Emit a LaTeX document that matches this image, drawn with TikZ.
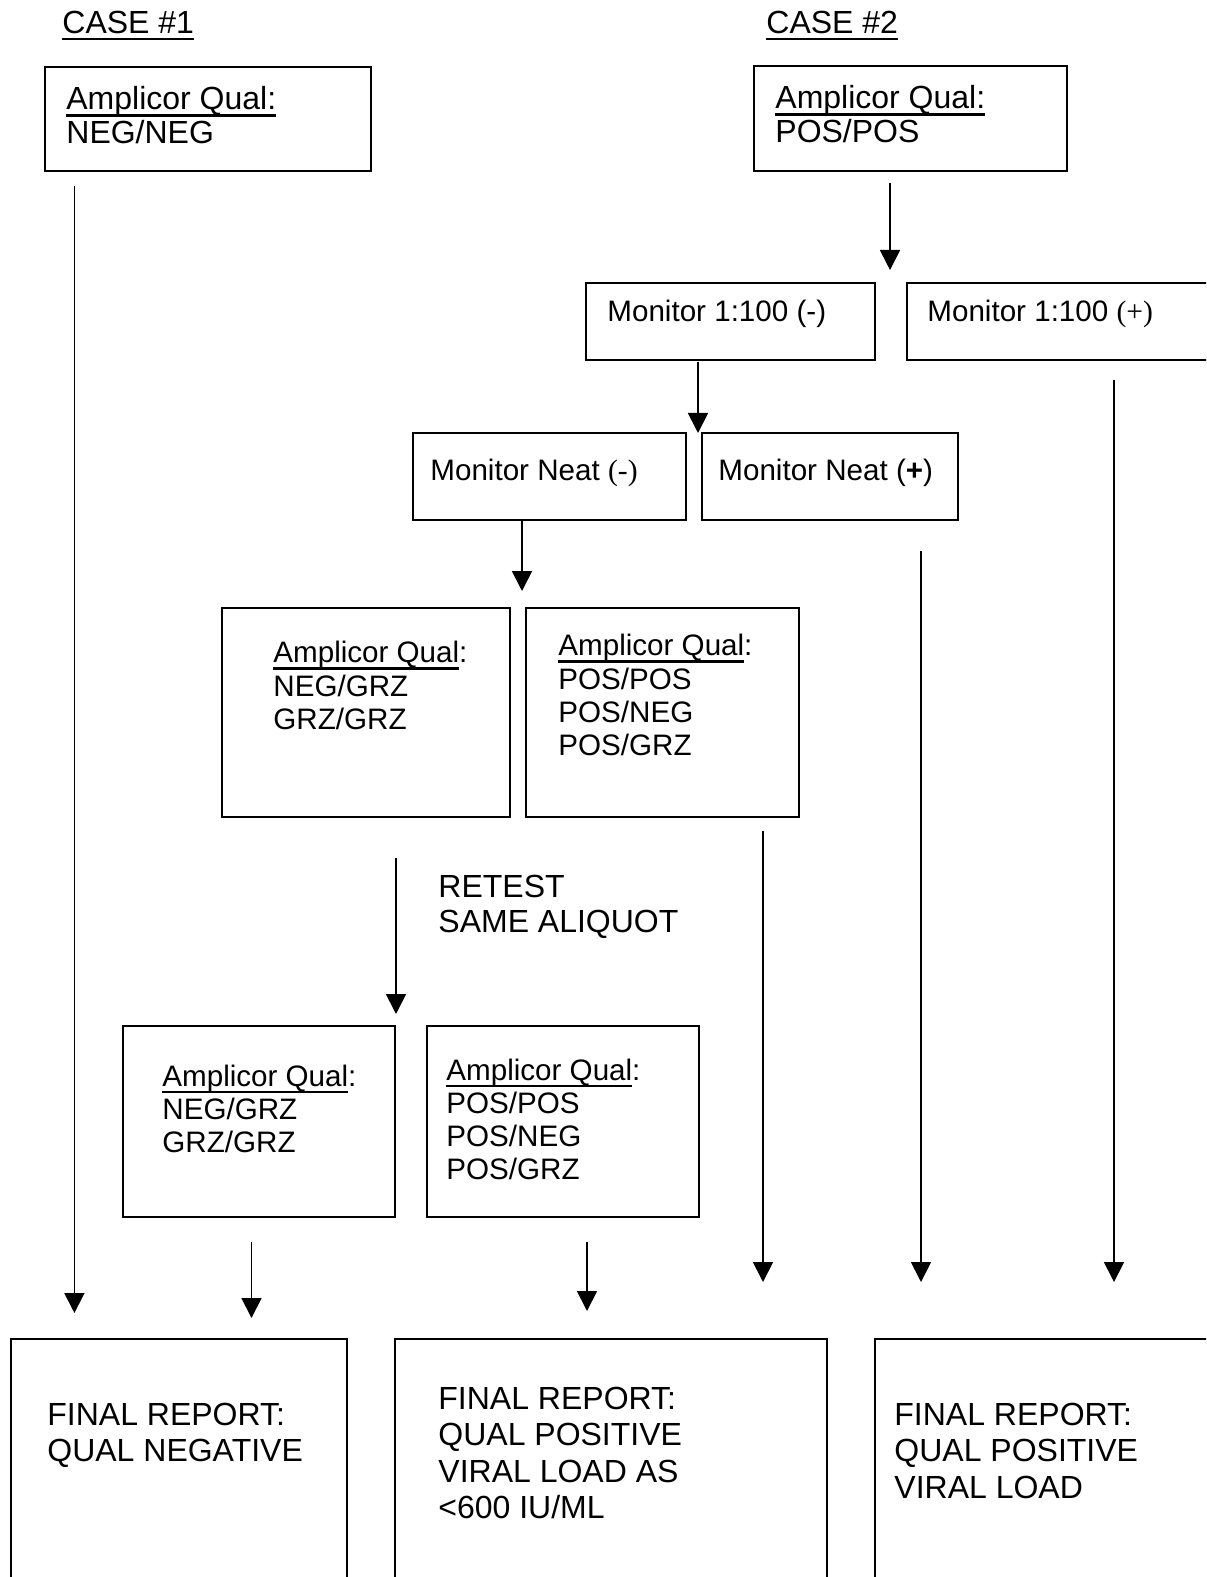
\documentclass[tikz,border=0pt]{standalone}
\usepackage{fontspec}
\setmainfont{Liberation Sans}
\newfontfamily\serifpart{Liberation Serif}
\usetikzlibrary{arrows.meta,fit}
\newcommand\myul[1]{\setbox0\hbox{#1}\rlap{\rule[-3.5pt]{\wd0}{1.3pt}}\box0}
\begin{document}
\begin{tikzpicture}[x=0.5pt,y=-0.5pt,
  box/.style={draw, line width=0.9pt, inner sep=0pt},
  txt/.style={anchor=north west, inner sep=0pt, align=left, font=\fontsize{16}{16.8}\selectfont},
  stxt/.style={txt, font=\fontsize{14.8}{16.6}\selectfont},
  rtxt/.style={txt, font=\fontsize{16}{17.6}\selectfont},
  fin/.style={txt, font=\fontsize{16}{18.1}\selectfont},
  arr/.style={line width=0.9pt, -{Triangle[width=10pt,length=10pt]}}]
\useasboundingbox (0,0) rectangle (1206,1577);
\clip (0,0) rectangle (1206,1577);
% titles
\node[txt] (c1) at (62,10.5) {\myul{CASE \#1}};
\node[txt] (c2) at (766,10.5) {\myul{CASE \#2}};
% boxes
\node[box, fit={(45,67) (371,171)}] (A1) {};
\node[box, fit={(754,66) (1067,171)}] (B1) {};
\node[box, fit={(586,283) (875,360)}] (Mm) {};
\node[box, fit={(907,283) (1240,360)}] (Mp) {};
\node[box, fit={(413,433) (686,520)}] (Nm) {};
\node[box, fit={(702,433) (958,520)}] (Np) {};
\node[box, fit={(222,608) (510,817)}] (Q1) {};
\node[box, fit={(526,608) (799,817)}] (Q2) {};
\node[box, fit={(123,1026) (395,1217)}] (R1) {};
\node[box, fit={(427,1026) (699,1217)}] (R2) {};
\node[box, fit={(11,1339) (347,1600)}] (F1) {};
\node[box, fit={(395,1339) (827,1600)}] (F2) {};
\node[box, fit={(875,1339) (1240,1600)}] (F3) {};
% texts
\node[txt] (tA1) at (66,86) {\myul{Amplicor Qual:}\\NEG/NEG};
\node[txt] (tB1) at (775,85) {\myul{Amplicor Qual:}\\POS/POS};
\node[stxt] (tMm) at (607,300) {Monitor 1:100 (-)};
\node[stxt] (tMp) at (927,300) {Monitor 1:100 {\serifpart (+)}};
\node[stxt] (tNm) at (430,459) {Monitor Neat {\serifpart (-)}};
\node[stxt] (tNp) at (718,459) {Monitor Neat (\textbf{+})};
\node[stxt] (tQ1) at (273,641) {\myul{Amplicor Qual}:\\NEG/GRZ\\GRZ/GRZ};
\node[stxt] (tQ2) at (558,634) {\myul{Amplicor Qual}:\\POS/POS\\POS/NEG\\POS/GRZ};
\node[rtxt] (ret) at (438,875) {RETEST\\SAME ALIQUOT};
\node[stxt] (tR1) at (162,1064.5) {\myul{Amplicor Qual}:\\NEG/GRZ\\GRZ/GRZ};
\node[stxt] (tR2) at (446,1058.5) {\myul{Amplicor Qual}:\\POS/POS\\POS/NEG\\POS/GRZ};
\node[fin] (tF1) at (47,1403) {FINAL REPORT:\\QUAL NEGATIVE};
\node[fin] (tF2) at (438,1387) {FINAL REPORT:\\QUAL POSITIVE\\VIRAL LOAD AS\\<600 IU/ML};
\node[fin] (tF3) at (894,1403) {FINAL REPORT:\\QUAL POSITIVE\\VIRAL LOAD};
% connector end points
\coordinate (a1s) at (74.4,186);  \coordinate (a1e) at (74.4,1313);
\coordinate (b1s) at (890,183);   \coordinate (b1e) at (890,270);
\coordinate (mms) at (698,362);   \coordinate (mme) at (698,433);
\coordinate (mps) at (1114,380);  \coordinate (mpe) at (1114,1282);
\coordinate (nps) at (921,551);   \coordinate (npe) at (921,1282);
\coordinate (nms) at (522,521);   \coordinate (nme) at (522,591);
\coordinate (q2s) at (763,831);   \coordinate (q2e) at (763,1282);
\coordinate (q1s) at (396,858);   \coordinate (q1e) at (396,1014);
\coordinate (r1s) at (251.5,1242); \coordinate (r1e) at (251.5,1318);
\coordinate (r2s) at (587,1242);  \coordinate (r2e) at (587,1311);
% arrows
\draw[arr] (a1s) -- (a1e);
\draw[arr] (b1s) -- (b1e);
\draw[arr] (mms) -- (mme);
\draw[arr] (mps) -- (mpe);
\draw[arr] (nps) -- (npe);
\draw[arr] (nms) -- (nme);
\draw[arr] (q2s) -- (q2e);
\draw[arr] (q1s) -- (q1e);
\draw[arr] (r1s) -- (r1e);
\draw[arr] (r2s) -- (r2e);
\end{tikzpicture}
\end{document}
